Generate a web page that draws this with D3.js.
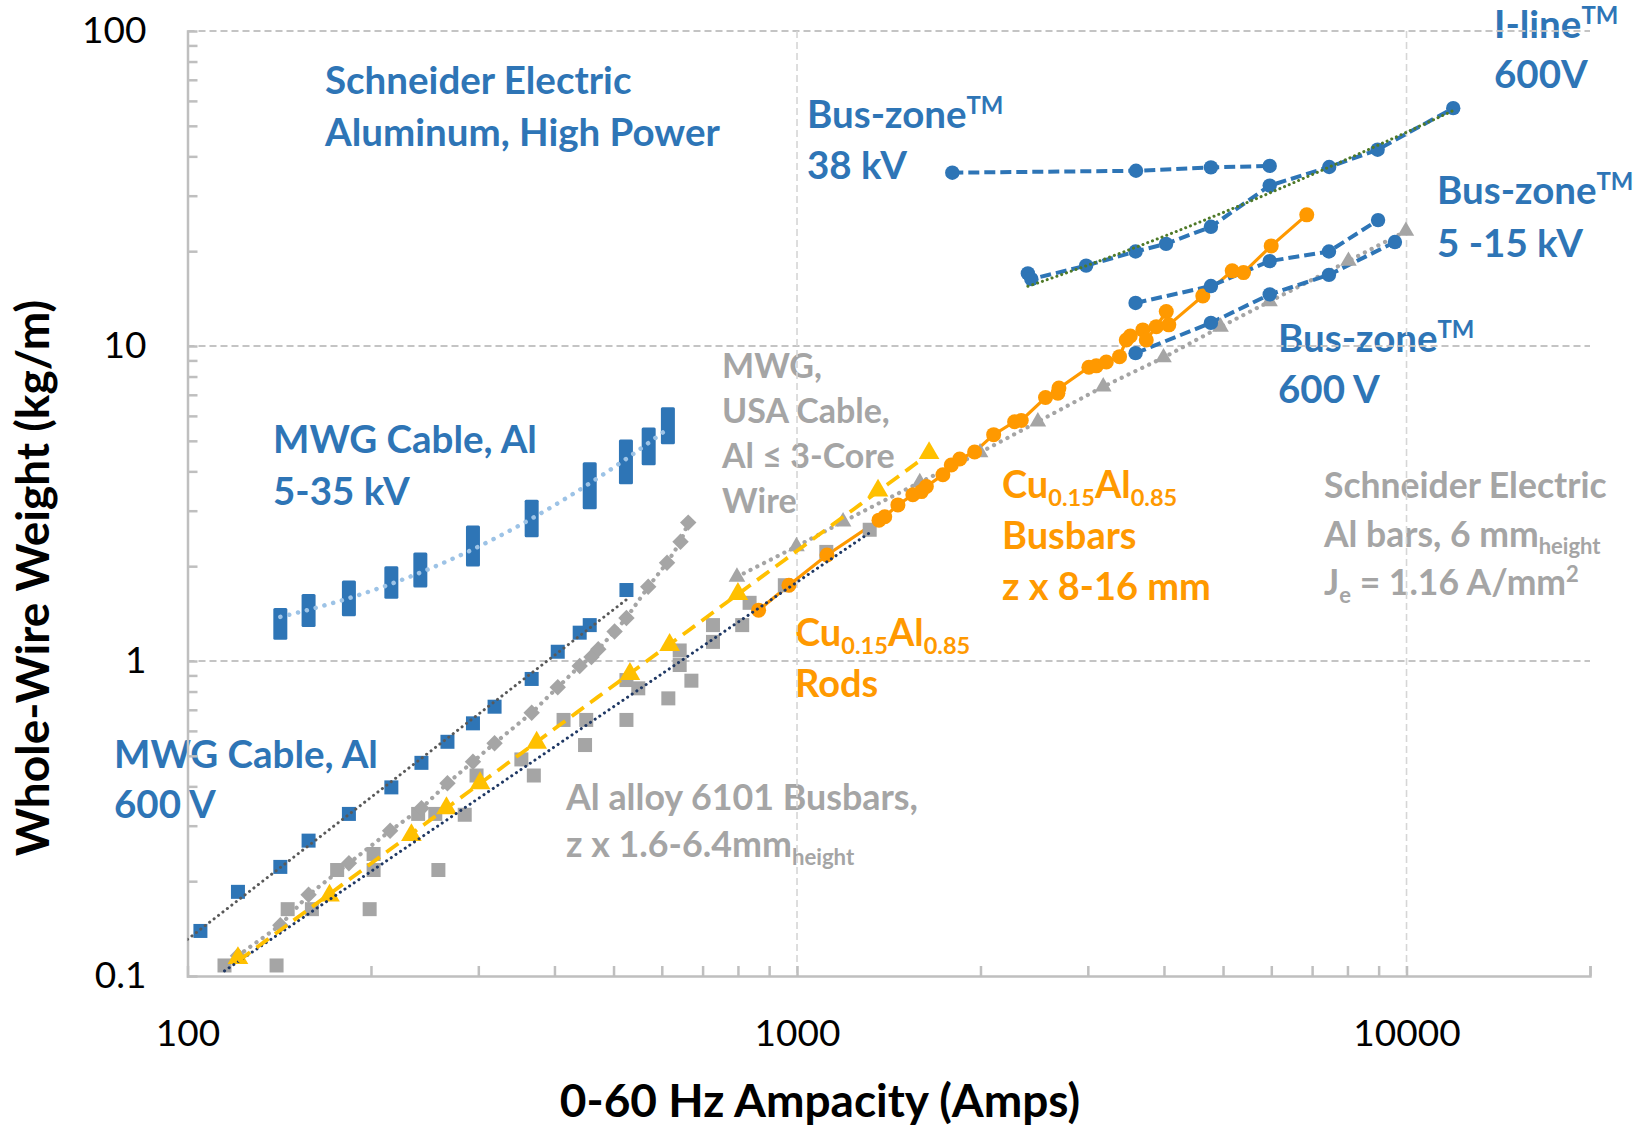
<!DOCTYPE html>
<html>
<head>
<meta charset="utf-8">
<script src="https://cdn.jsdelivr.net/npm/d3@7"></script>
<style>
  html, body { margin: 0; padding: 0; background: #fff; }
  svg { display: block; font-family: Lato, "Open Sans", sans-serif; }
</style>
</head>
<body>
<svg id="chart"></svg>
<script>
// ---- data (ampacity in A, whole-wire weight in kg/m) ----

// MWG Cable, Al 5-35 kV : each ampacity spans a range of weights
const mwgHvAmps = [142, 158, 184, 216, 241, 294, 367, 457, 524, 571, 614];
const mwgHvLow = [1.23, 1.35, 1.46, 1.66, 1.80, 2.10, 2.60, 3.19, 3.83, 4.40, 5.13];
const mwgHvHigh = [1.40, 1.55, 1.71, 1.90, 2.10, 2.56, 3.09, 4.06, 4.80, 5.24, 6.07];

// MWG Cable, Al 600 V
const mwgLvAmps = [105, 121, 142, 158, 184, 216, 242, 267, 294, 319, 367, 405, 440, 457, 525];
const mwgLvWeight = [0.139, 0.185, 0.222, 0.269, 0.327, 0.397, 0.475, 0.554, 0.634, 0.716, 0.877, 1.07, 1.23, 1.30, 1.68];

// MWG, USA Cable, Al <= 3-core wire
const usaAmps = [121, 142, 158, 184, 215, 242, 267, 294, 319, 367, 405, 440, 460, 472, 502, 525, 570, 612, 644, 663];
const usaWeight = [0.116, 0.145, 0.181, 0.228, 0.289, 0.341, 0.409, 0.479, 0.548, 0.685, 0.825, 0.964, 1.03, 1.09, 1.24, 1.37, 1.72, 2.05, 2.39, 2.75];

// Al alloy 6101 busbars
const alBusAmps = [115, 140, 146, 160, 199, 176, 202, 202, 258, 239, 255, 285, 298, 353, 370, 414, 451, 449, 525, 525, 549, 615, 642, 642, 671, 728, 728, 813, 836, 955, 1117, 1316];
const alBusWeight = [0.108, 0.108, 0.163, 0.163, 0.163, 0.217, 0.217, 0.244, 0.217, 0.327, 0.327, 0.325, 0.433, 0.487, 0.433, 0.650, 0.650, 0.541, 0.650, 0.870, 0.819, 0.761, 1.08, 0.971, 0.866, 1.15, 1.30, 1.30, 1.53, 1.74, 2.22, 2.61];

// gold triangles
const goldAmps = [121, 171, 233, 266, 302, 374, 532, 618, 800, 1358, 1647];
const goldWeight = [0.114, 0.180, 0.280, 0.341, 0.409, 0.550, 0.909, 1.124, 1.633, 3.474, 4.569];

// Cu0.15Al0.85 rods and busbars
const cuAlAmps = [865, 970, 1120, 1363, 1393, 1464, 1549, 1600, 1630, 1735, 1791, 1849, 1956, 2102, 2275, 2333, 2557, 2679, 2690, 3012, 3097, 3217, 3382, 3469, 3522, 3693, 3741, 3886, 4035, 4074, 4632, 5176, 5402, 5998, 6860];
const cuAlWeight = [1.45, 1.74, 2.17, 2.80, 2.87, 3.13, 3.37, 3.45, 3.58, 3.90, 4.19, 4.38, 4.61, 5.23, 5.75, 5.80, 6.86, 7.08, 7.35, 8.56, 8.65, 8.90, 9.25, 10.45, 10.76, 11.25, 10.45, 11.52, 12.86, 11.67, 14.42, 17.32, 17.10, 20.79, 26.08];

// Schneider Electric Al bars, 6 mm height
const seBarAmps = [797, 998, 1190, 1590, 1997, 2484, 3180, 3993, 4953, 5960, 8030, 9976];
const seBarWeight = [1.85, 2.31, 2.77, 3.69, 4.59, 5.75, 7.43, 9.19, 11.5, 13.84, 18.61, 23.17];

// Schneider Electric aluminium, high power
const bz38Amps = [1798, 3599, 4776, 5964];
const bz38Weight = [35.5, 36.0, 36.9, 37.3];
const ilineAmps = [2392, 2424, 2981, 3593, 4032, 4776, 5964, 7467, 8966, 11929];
const ilineWeight = [17.0, 16.3, 18.0, 19.95, 21.1, 23.9, 32.3, 37.0, 42.0, 56.9];
const bz15Amps = [3593, 4776, 5964, 7460, 8981];
const bz15Weight = [13.7, 15.5, 18.6, 19.95, 25.1];
const bz600Amps = [3593, 4776, 5964, 7460, 9572];
const bz600Weight = [9.49, 11.84, 14.58, 16.82, 21.38];

// axes
const xTicks = [100, 1000, 10000];
const xTickLabels = ["100", "1000", "10000"];
const yTicks = [0.1, 1, 10, 100];
const yTickLabels = ["0.1", "1", "10", "100"];

// ---- layout ----
const width = 1633;
const height = 1126;
const margin = { top: 31, right: 43, bottom: 150, left: 187.5 };
const W = width - margin.left - margin.right;
const H = height - margin.top - margin.bottom;

const BLUE = "#2e75b6";
const GRAY = "#a5a5a5";
const GOLD = "#ffc000";
const ORANGE = "#ff9900";

const svg = d3.select("#chart").attr("width", width).attr("height", height);

const x = d3.scaleLog().domain([100, 20000]).range([0, W]);
const y = d3.scaleLog().domain([0.1, 100]).range([H, 0]);

const zip = (a, b) => a.map((v, i) => [v, b[i]]);

// fits, computed from the plotted points
function linReg(xs, ys) {
  const mx = d3.mean(xs), my = d3.mean(ys);
  let sxx = 0, sxy = 0;
  xs.forEach((v, i) => { sxx += (v - mx) ** 2; sxy += (v - mx) * (ys[i] - my); });
  const b = sxy / sxx;
  return [my - b * mx, b];
}
function powerFit(xs, ys) {
  const [a, b] = linReg(xs.map(Math.log10), ys.map(Math.log10));
  return v => Math.pow(10, a + b * Math.log10(v));
}
function linearFit(xs, ys) {
  const [a, b] = linReg(xs, ys);
  return v => a + b * v;
}
function poly2Fit(xs, ys) {
  // normal equations for y = c0 + c1 x + c2 x^2
  const s = k => d3.sum(xs, v => v ** k);
  const t = k => d3.sum(xs, (v, i) => ys[i] * v ** k);
  const A = [[s(0), s(1), s(2)], [s(1), s(2), s(3)], [s(2), s(3), s(4)]];
  const B = [t(0), t(1), t(2)];
  for (let i = 0; i < 3; i++) {
    for (let j = i + 1; j < 3; j++) {
      const f = A[j][i] / A[i][i];
      for (let k = i; k < 3; k++) A[j][k] -= f * A[i][k];
      B[j] -= f * B[i];
    }
  }
  const c = [0, 0, 0];
  for (let i = 2; i >= 0; i--) {
    let acc = B[i];
    for (let k = i + 1; k < 3; k++) acc -= A[i][k] * c[k];
    c[i] = acc / A[i][i];
  }
  return v => c[0] + c[1] * v + c[2] * v * v;
}
function sampleFit(fn, lo, hi) {
  return d3.range(0, 101).map(i => {
    const v = lo * Math.pow(hi / lo, i / 100);
    return [v, fn(v)];
  });
}

const line = d3.line().x(d => x(d[0])).y(d => y(d[1]));

// ---- annotations (under the grid, as in the original) ----
const notes = svg.append("g");
function drawNote(n) {
  n.lines.forEach((segs, i) => {
    const t = notes.append("text")
      .attr("x", n.x).attr("y", n.y + i * n.gap)
      .attr("fill", n.color).attr("font-size", n.size).attr("font-weight", 700);
    let shift = 0;
    segs.forEach(seg => {
      const str = typeof seg === "string" ? seg : seg[0];
      const kind = typeof seg === "string" ? "" : seg[1];
      const target = kind === "sup" ? -0.36 * n.size : kind === "sub" ? 0.22 * n.size : 0;
      t.append("tspan")
        .attr("dy", target - shift)
        .attr("font-size", kind ? n.size * 0.62 : n.size)
        .text(str);
      shift = target;
    });
  });
}
const TM = ["TM", "sup"];
[
  { x: 325, y: 94, gap: 51.5, size: 38.5, color: BLUE,
    lines: [["Schneider Electric"], ["Aluminum, High Power"]] },
  { x: 807, y: 128, gap: 50.5, size: 38.5, color: BLUE,
    lines: [["Bus-zone", TM], ["38 kV"]] },
  { x: 1494, y: 38, gap: 50, size: 38.5, color: BLUE,
    lines: [["I-line", TM], ["600V"]] },
  { x: 1437, y: 204, gap: 52.5, size: 38.5, color: BLUE,
    lines: [["Bus-zone", TM], ["5 -15 kV"]] },
  { x: 1278, y: 352, gap: 51, size: 38.5, color: BLUE,
    lines: [["Bus-zone", TM], ["600 V"]] },
  { x: 273, y: 453, gap: 51.5, size: 38.5, color: BLUE,
    lines: [["MWG Cable, Al"], ["5-35 kV"]] },
  { x: 114, y: 768, gap: 50, size: 38.5, color: BLUE,
    lines: [["MWG Cable, Al"], ["600 V"]] },
  { x: 722, y: 378, gap: 45, size: 34, color: GRAY,
    lines: [["MWG,"], ["USA Cable,"], ["Al \u2264 3-Core"], ["Wire"]] },
  { x: 1002, y: 498, gap: 51, size: 38, color: ORANGE,
    lines: [["Cu", ["0.15", "sub"], "Al", ["0.85", "sub"]], ["Busbars"], ["z x 8-16 mm"]] },
  { x: 795, y: 646, gap: 50.5, size: 38, color: ORANGE,
    lines: [["Cu", ["0.15", "sub"], "Al", ["0.85", "sub"]], ["Rods"]] },
  { x: 1324, y: 498, gap: 48.5, size: 35.5, color: GRAY,
    lines: [["Schneider Electric"], ["Al bars, 6 mm", ["height", "sub"]], ["J", ["e", "sub"], " = 1.16 A/mm", ["2", "sup"]]] },
  { x: 566, y: 810, gap: 47, size: 35.8, color: GRAY,
    lines: [["Al alloy 6101 Busbars,"], ["z x 1.6-6.4mm", ["height", "sub"]]] }
].forEach(drawNote);

// ---- plot area ----
const g = svg.append("g").attr("transform", `translate(${margin.left},${margin.top})`);

g.append("clipPath").attr("id", "plot-clip")
  .append("rect").attr("x", 0).attr("y", -2).attr("width", W).attr("height", H + 2);

// grid lines
g.append("g")
  .selectAll("line")
  .data([1, 10, 100])
  .join("line")
  .attr("x1", 0).attr("x2", W)
  .attr("y1", d => y(d)).attr("y2", d => y(d))
  .attr("stroke", "#c4c4c4").attr("stroke-width", 2).attr("stroke-dasharray", "7,4");
g.append("g")
  .selectAll("line")
  .data([1000, 10000])
  .join("line")
  .attr("x1", d => x(d)).attr("x2", d => x(d))
  .attr("y1", 0).attr("y2", H)
  .attr("stroke", "#d6d6d6").attr("stroke-width", 1.6).attr("stroke-dasharray", "7,4");

// axes with inside ticks at every 1..9 x 10^k
const logTicks = (lo, hi) => {
  const out = [];
  for (let e = Math.floor(Math.log10(lo)); e <= Math.ceil(Math.log10(hi)); e++) {
    for (let m = 1; m < 10; m++) {
      const v = m * Math.pow(10, e);
      if (v > lo * 1.0001 && v <= hi * 1.0001) out.push(v);
    }
  }
  return out;
};

const xAxis = g.append("g").attr("transform", `translate(0,${H})`)
  .call(d3.axisBottom(x).tickValues(logTicks(100, 20000)).tickSize(-10).tickFormat(""));
const yAxis = g.append("g")
  .call(d3.axisLeft(y).tickValues(logTicks(0.1, 100).filter(v => v < 99)).tickSize(-10).tickFormat(""));
[xAxis, yAxis].forEach(a => {
  a.select(".domain").attr("stroke", "#bfbfbf").attr("stroke-width", 2.5);
  a.selectAll(".tick line").attr("stroke", "#bfbfbf").attr("stroke-width", 2.5);
});

const xLabels = g.append("g").attr("transform", `translate(0,${H})`)
  .call(d3.axisBottom(x).tickValues(xTicks).tickSize(0).tickPadding(44)
    .tickFormat((d, i) => xTickLabels[i]));
const yLabels = g.append("g")
  .call(d3.axisLeft(y).tickValues(yTicks).tickSize(0).tickPadding(41)
    .tickFormat((d, i) => yTickLabels[i]));
[xLabels, yLabels].forEach(a => {
  a.select(".domain").remove();
  a.selectAll("text").attr("font-family", "Lato, sans-serif").attr("font-size", 37).attr("fill", "#000");
});

// axis titles
svg.append("text")
  .attr("x", 820).attr("y", 1117)
  .attr("text-anchor", "middle").attr("font-size", 46).attr("font-weight", 700).attr("fill", "#000")
  .text("0-60 Hz Ampacity (Amps)");
svg.append("text")
  .attr("transform", "translate(49,578) rotate(-90)")
  .attr("text-anchor", "middle").attr("font-size", 46).attr("font-weight", 700).attr("fill", "#000")
  .text("Whole-Wire Weight (kg/m)");

// ---- series ----
const plot = g.append("g").attr("clip-path", "url(#plot-clip)");
const marks = g.append("g");

function dotted(sel, color, w, gap) {
  return sel.attr("fill", "none").attr("stroke", color).attr("stroke-width", w)
    .attr("stroke-linecap", "round").attr("stroke-dasharray", `0.1,${gap}`);
}

// Al alloy 6101 busbars: gray squares
marks.append("g").selectAll("rect")
  .data(zip(alBusAmps, alBusWeight))
  .join("rect")
  .attr("x", d => x(d[0]) - 7).attr("y", d => y(d[1]) - 7)
  .attr("width", 14).attr("height", 14).attr("fill", GRAY);

// MWG USA cable: gray diamonds joined by a dotted line
dotted(plot.append("path").datum(zip(usaAmps, usaWeight)).attr("d", line), GRAY, 4.2, 7.5);
marks.append("g").selectAll("path")
  .data(zip(usaAmps, usaWeight))
  .join("path")
  .attr("d", d3.symbol(d3.symbolSquare, 135))
  .attr("transform", d => `translate(${x(d[0])},${y(d[1])}) rotate(45)`)
  .attr("fill", GRAY);

// MWG 600 V: blue squares
marks.append("g").selectAll("rect")
  .data(zip(mwgLvAmps, mwgLvWeight))
  .join("rect")
  .attr("x", d => x(d[0]) - 7).attr("y", d => y(d[1]) - 7)
  .attr("width", 14).attr("height", 14).attr("fill", BLUE);

// MWG 5-35 kV: blue range bars
marks.append("g").selectAll("rect")
  .data(mwgHvAmps.map((a, i) => [a, mwgHvLow[i], mwgHvHigh[i]]))
  .join("rect")
  .attr("x", d => x(d[0]) - 7).attr("y", d => y(d[2]) - 7)
  .attr("width", 14).attr("height", d => y(d[1]) - y(d[2]) + 14)
  .attr("rx", 1.5).attr("fill", BLUE);

// gold triangles
marks.append("g").selectAll("path")
  .data(zip(goldAmps, goldWeight))
  .join("path")
  .attr("d", d3.symbol(d3.symbolTriangle, 185))
  .attr("transform", d => `translate(${x(d[0])},${y(d[1])})`)
  .attr("fill", GOLD);

// Schneider Al bars: gray triangles with dotted line
dotted(plot.append("path").datum(zip(seBarAmps, seBarWeight)).attr("d", line), GRAY, 4.2, 7.5);
marks.append("g").selectAll("path")
  .data(zip(seBarAmps, seBarWeight))
  .join("path")
  .attr("d", d3.symbol(d3.symbolTriangle, 120))
  .attr("transform", d => `translate(${x(d[0])},${y(d[1])})`)
  .attr("fill", GRAY);

// Cu0.15Al0.85: orange circles, solid line
plot.append("path").datum(zip(cuAlAmps, cuAlWeight)).attr("d", line)
  .attr("fill", "none").attr("stroke", ORANGE).attr("stroke-width", 3.2);
marks.append("g").selectAll("circle")
  .data(zip(cuAlAmps, cuAlWeight))
  .join("circle")
  .attr("cx", d => x(d[0])).attr("cy", d => y(d[1])).attr("r", 7.5)
  .attr("fill", ORANGE);

// Schneider Electric high power: blue circles, dashed lines
[[bz38Amps, bz38Weight], [ilineAmps, ilineWeight], [bz15Amps, bz15Weight], [bz600Amps, bz600Weight]]
  .forEach(([a, w]) => {
    plot.append("path").datum(zip(a, w)).attr("d", line)
      .attr("fill", "none").attr("stroke", BLUE).attr("stroke-width", 4)
      .attr("stroke-dasharray", "11,5");
    marks.append("g").selectAll("circle")
      .data(zip(a, w))
      .join("circle")
      .attr("cx", d => x(d[0])).attr("cy", d => y(d[1])).attr("r", 7.2)
      .attr("fill", BLUE);
  });

// ---- trendlines ----
const trends = g.append("g").attr("clip-path", "url(#plot-clip)");

const mwgHvMid = mwgHvLow.map((v, i) => (v + mwgHvHigh[i]) / 2);
dotted(trends.append("path")
  .datum(sampleFit(poly2Fit(mwgHvAmps, mwgHvMid), d3.min(mwgHvAmps), d3.max(mwgHvAmps)))
  .attr("d", line), "#9dc3e6", 4.5, 9);

dotted(trends.append("path")
  .datum(sampleFit(powerFit(mwgLvAmps, mwgLvWeight), 100, d3.max(mwgLvAmps)))
  .attr("d", line), "#595959", 3, 5.5);

dotted(trends.append("path")
  .datum(sampleFit(powerFit(alBusAmps, alBusWeight), d3.min(alBusAmps), d3.max(alBusAmps)))
  .attr("d", line), "#1f3864", 3, 5.5);

trends.append("path")
  .datum(sampleFit(powerFit(goldAmps, goldWeight), d3.min(goldAmps), d3.max(goldAmps)))
  .attr("d", line)
  .attr("fill", "none").attr("stroke", GOLD).attr("stroke-width", 3.8)
  .attr("stroke-dasharray", "15,8");

dotted(trends.append("path")
  .datum(sampleFit(linearFit(ilineAmps, ilineWeight), d3.min(ilineAmps), d3.max(ilineAmps)))
  .attr("d", line), "#4f7a28", 3, 5);
</script>
</body>
</html>
